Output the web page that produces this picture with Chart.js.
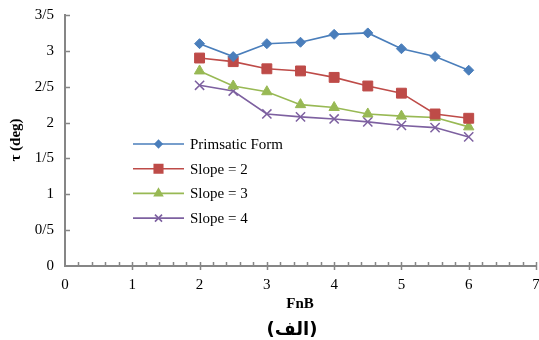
<!DOCTYPE html>
<html>
<head>
<meta charset="utf-8">
<script src="https://cdn.jsdelivr.net/npm/chart.js@4"></script>
<style>
  html, body { margin: 0; padding: 0; background: #fff; }
  #wrap { width: 539px; height: 340px; }
</style>
</head>
<body>
<div id="wrap"><canvas id="chart" width="539" height="340"></canvas></div>
<script>
// FnB values shared by every series
const fnb = [2, 2.5, 3, 3.5, 4, 4.5, 5, 5.5, 6];

const prismatic = [3.1, 2.92, 3.1, 3.12, 3.23, 3.25, 3.03, 2.92, 2.73];
const slope2    = [2.9, 2.85, 2.75, 2.72, 2.63, 2.51, 2.41, 2.12, 2.06];
const slope3    = [2.72, 2.51, 2.43, 2.25, 2.21, 2.12, 2.09, 2.07, 1.94];
const slope4    = [2.52, 2.44, 2.12, 2.08, 2.05, 2.01, 1.96, 1.93, 1.80];

const seriesNames = ['Primsatic Form', 'Slope = 2', 'Slope = 3', 'Slope = 4'];
const xTicks = [0, 1, 2, 3, 4, 5, 6, 7];
const yTicks = [0, 0.5, 1, 1.5, 2, 2.5, 3, 3.5];

const xTitle = 'FnB';
const yTitle = 'τ (deg)';
const caption = '(الف)';

const AXIS = '#868686';
const SERIF = '"Liberation Serif", "Times New Roman", serif';

function pts(ys) { return fnb.map((x, i) => ({x: x, y: ys[i]})); }

// legend marker sizes are a bit smaller than on the lines
const styles = [
  {color: '#4a7ebb', point: 'rectRot',  r: 5,   lr: 3.5, bw: 1},
  {color: '#be4b48', point: 'rect',     r: 7,   lr: 6,   bw: 1},
  {color: '#98b954', point: 'triangle', r: 6,   lr: 4.5, bw: 1},
  {color: '#7d60a0', point: 'crossRot', r: 6.5, lr: 5,   bw: 1.5}
];

const datasets = [prismatic, slope2, slope3, slope4].map((ys, i) => ({
  label: seriesNames[i],
  data: pts(ys),
  borderColor: styles[i].color,
  backgroundColor: styles[i].color,
  borderWidth: 1.6,
  pointStyle: styles[i].point,
  pointRadius: styles[i].r,
  pointHoverRadius: styles[i].r,
  pointBorderWidth: styles[i].bw,
  pointBorderColor: styles[i].color,
  pointBackgroundColor: styles[i].color,
  tension: 0
}));

// keep the plot box fixed, labels may hang over the edges
function noPad(s) {
  s.paddingLeft = 0; s.paddingRight = 0;
  s.paddingTop = 0; s.paddingBottom = 0;
}

// axis ticks (inside), legend box and the texts around the plot
const decor = {
  id: 'decor',
  afterDraw(chart) {
    const ctx = chart.ctx;
    const xs = chart.scales.x, ys = chart.scales.y;
    const x0 = xs.getPixelForValue(0);
    const y0 = ys.getPixelForValue(0);

    ctx.save();
    ctx.strokeStyle = AXIS;
    ctx.lineWidth = 1.5;
    ctx.beginPath();
    yTicks.forEach(v => {
      const py = Math.round(ys.getPixelForValue(v)) + 0.5;
      if (v === 0) return;
      ctx.moveTo(x0, py); ctx.lineTo(x0 + 5, py);
    });
    for (let k = 1; k <= 35; k++) {
      const v = k / 5;
      const px = Math.round(xs.getPixelForValue(v)) + 0.5;
      if (k % 5 === 0) { ctx.moveTo(px, y0 - 4); ctx.lineTo(px, y0 + 4); }
      else { ctx.moveTo(px, y0 - 4); ctx.lineTo(px, y0); }
    }
    ctx.stroke();

    // legend
    const lx = 133, lw = 51, ly = 144, step = 24.7;
    chart.data.datasets.forEach((ds, i) => {
      const y = ly + i * step;
      ctx.strokeStyle = ds.borderColor;
      ctx.lineWidth = 1.6;
      ctx.beginPath();
      ctx.moveTo(lx, y); ctx.lineTo(lx + lw, y);
      ctx.stroke();
      ctx.fillStyle = ds.borderColor;
      Chart.helpers.drawPoint(ctx, {
        pointStyle: styles[i].point, radius: styles[i].lr, rotation: 0,
        borderWidth: styles[i].bw
      }, lx + lw / 2, y);
      ctx.fillStyle = '#000';
      ctx.font = '15px ' + SERIF;
      ctx.textAlign = 'left';
      ctx.textBaseline = 'middle';
      ctx.fillText(ds.label, 190, y + 1);
    });

    // axis titles and caption
    ctx.fillStyle = '#000';
    ctx.textAlign = 'center';
    ctx.textBaseline = 'middle';
    ctx.font = 'bold 15px ' + SERIF;
    ctx.fillText(xTitle, 300, 304);
    ctx.save();
    ctx.translate(16, 140);
    ctx.rotate(-Math.PI / 2);
    ctx.fillText(yTitle, 0, 0);
    ctx.restore();
    ctx.font = 'bold 18px "DejaVu Sans", sans-serif';
    ctx.fillText(caption, 292, 330);
    ctx.restore();
  }
};

const ctx = document.getElementById('chart').getContext('2d');
new Chart(ctx, {
  type: 'line',
  data: {datasets: datasets},
  options: {
    responsive: false,
    animation: false,
    layout: {autoPadding: false, padding: {top: 15, right: 3, left: 0, bottom: 0}},
    plugins: {legend: {display: false}, tooltip: {enabled: false}},
    scales: {
      x: {
        type: 'linear', min: 0, max: 7,
        afterFit: s => { s.height = 74; noPad(s); },
        afterBuildTicks: s => { s.ticks = xTicks.map(v => ({value: v})); },
        grid: {display: false, drawTicks: false, tickLength: 0},
        border: {display: true, color: AXIS, width: 2},
        ticks: {
          padding: 10, color: '#000', maxRotation: 0,
          font: {family: SERIF, size: 15}
        }
      },
      y: {
        min: 0, max: 3.5,
        afterFit: s => { s.width = 65; noPad(s); },
        afterBuildTicks: s => { s.ticks = yTicks.map(v => ({value: v})); },
        grid: {display: false, drawTicks: false, tickLength: 0},
        border: {display: true, color: AXIS, width: 2},
        ticks: {
          padding: 11, color: '#000',
          font: {family: SERIF, size: 15},
          callback: v => String(v).replace('.', '/')
        }
      }
    }
  },
  plugins: [decor]
});
</script>
</body>
</html>
